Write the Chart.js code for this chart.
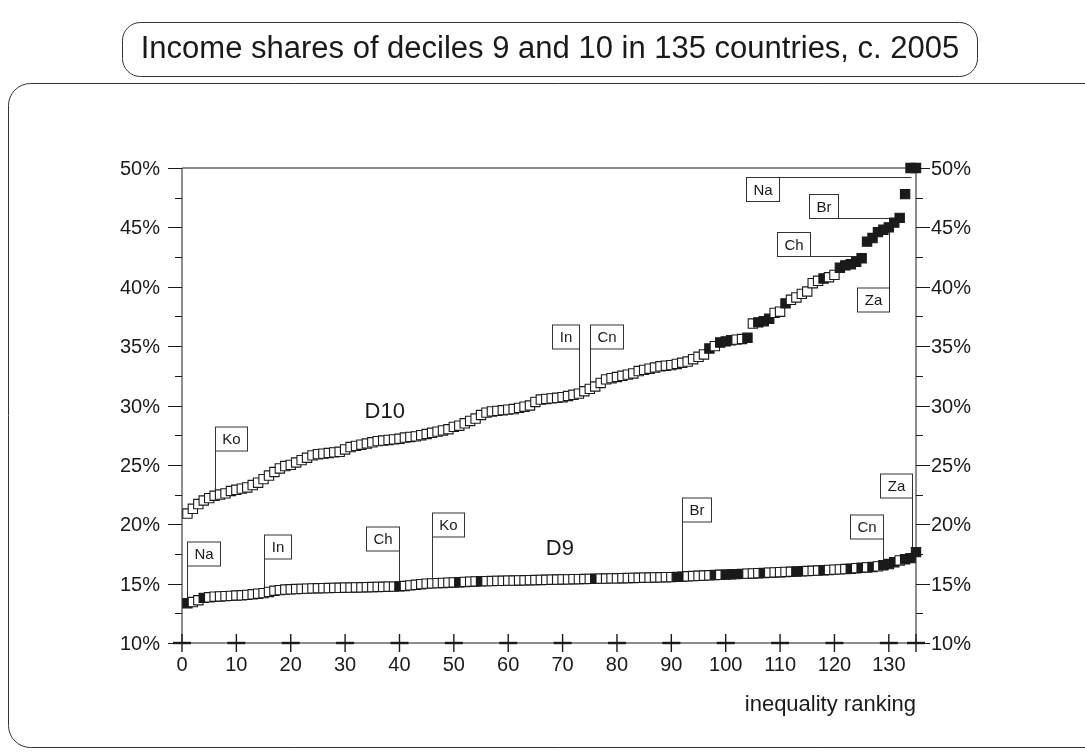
<!DOCTYPE html>
<html>
<head>
<meta charset="utf-8">
<script src="https://cdn.jsdelivr.net/npm/chart.js@4.4.0/dist/chart.umd.min.js"></script>
<style>
  html, body { margin: 0; padding: 0; background: #fff; }
  #wrap { width: 1085px; height: 755px; }
</style>
</head>
<body>
<div id="wrap"><canvas id="chart" width="1085" height="755"></canvas></div>
<script>
const titleText = 'Income shares of deciles 9 and 10 in 135 countries, c. 2005';
const xAxisTitle = 'inequality ranking';

// income share (%) of the top decile, countries sorted by rank 1..135
const d10Values = [
  20.9, 21.3, 21.7, 22.0, 22.2, 22.4, 22.5, 22.6, 22.8, 22.9,
  23.0, 23.1, 23.3, 23.5, 23.8, 24.1, 24.4, 24.7, 24.9, 25.0,
  25.2, 25.4, 25.6, 25.8, 25.9, 25.95, 26.0, 26.05, 26.1, 26.3,
  26.5, 26.6, 26.7, 26.8, 26.9, 27.0, 27.05, 27.1, 27.15, 27.2,
  27.3, 27.35, 27.4, 27.5, 27.6, 27.7, 27.8, 27.9, 28.0, 28.2,
  28.3, 28.5, 28.7, 28.9, 29.2, 29.4, 29.5, 29.55, 29.6, 29.65,
  29.7, 29.8, 29.9, 30.0, 30.3, 30.5, 30.55, 30.6, 30.65, 30.7,
  30.8, 30.9, 31.0, 31.2, 31.4, 31.6, 31.9, 32.2, 32.3, 32.4,
  32.5, 32.6, 32.7, 32.9, 33.0, 33.1, 33.2, 33.3, 33.35, 33.4,
  33.5, 33.6, 33.7, 33.9, 34.1, 34.3, 34.8, 35.0, 35.3, 35.4,
  35.5, 35.55, 35.6, 35.7, 36.9, 37.0, 37.1, 37.3, 37.8, 37.9,
  38.6, 38.9, 39.1, 39.4, 39.6, 40.3, 40.5, 40.7, 40.8, 41.0,
  41.6, 41.8, 41.9, 42.1, 42.4, 43.8, 44.1, 44.6, 44.8, 45.0,
  45.4, 45.8, 47.8, 50.0, 50.0
];
// income share (%) of decile 9, sorted the same way
const d9Values = [
  13.35, 13.45, 13.6, 13.8, 13.85, 13.9, 13.92, 13.95, 13.97, 14.0,
  14.02, 14.05, 14.1, 14.15, 14.2, 14.3, 14.4, 14.45, 14.5, 14.52,
  14.54, 14.56, 14.58, 14.6, 14.61, 14.62, 14.63, 14.64, 14.65, 14.66,
  14.67, 14.68, 14.69, 14.7, 14.71, 14.72, 14.73, 14.74, 14.75, 14.77,
  14.8, 14.85, 14.9, 14.95, 15.0, 15.02, 15.04, 15.06, 15.08, 15.1,
  15.12, 15.14, 15.16, 15.18, 15.2, 15.21, 15.22, 15.23, 15.24, 15.25,
  15.26, 15.27, 15.28, 15.29, 15.3, 15.31, 15.32, 15.33, 15.34, 15.35,
  15.36, 15.37, 15.38, 15.39, 15.4, 15.41, 15.42, 15.43, 15.44, 15.45,
  15.46, 15.47, 15.48, 15.49, 15.5, 15.51, 15.52, 15.53, 15.54, 15.55,
  15.57, 15.59, 15.62, 15.64, 15.66, 15.68, 15.7, 15.72, 15.74, 15.76,
  15.78, 15.8, 15.82, 15.84, 15.86, 15.88, 15.9, 15.92, 15.94, 15.96,
  15.98, 16.0, 16.02, 16.04, 16.06, 16.08, 16.1, 16.12, 16.15, 16.18,
  16.2, 16.23, 16.26, 16.3, 16.33, 16.36, 16.4, 16.45, 16.55, 16.65,
  16.8, 16.95, 17.05, 17.15, 17.65
];

// ranks drawn as filled squares
const d10Filled = [97, 99, 100, 101, 104, 106, 107, 108, 111, 118,
  121, 122, 123, 124, 125, 126, 127, 128, 129, 130, 131, 132, 133, 134, 135];
const d9Filled = [1, 4, 40, 51, 55, 76, 91, 92, 98, 100, 101, 102, 103, 107,
  113, 114, 118, 123, 125, 127, 129, 130, 131, 133, 134, 135];

const seriesNames = ['D10', 'D9'];
const seriesLabelAt = [[37.3, 29.45], [69.5, 17.9]];

const xTickValues = [0, 10, 20, 30, 40, 50, 60, 70, 80, 90, 100, 110, 120, 130, 135];
const xTickLabels = ['0', '10', '20', '30', '40', '50', '60', '70', '80', '90', '100', '110', '120', '130', ''];
const yMajorTicks = [10, 15, 20, 25, 30, 35, 40, 45, 50];
const yMinorTicks = [12.5, 17.5, 22.5, 27.5, 32.5, 37.5, 42.5, 47.5];
const yTickLabels = ['10%', '15%', '20%', '25%', '30%', '35%', '40%', '45%', '50%'];

// country tags: series 0 = D10, 1 = D9
const callouts = [
  { series: 0, rank: 6,   text: 'Ko', boxY: 27.2,  align: 'left',  leader: 'v' },
  { series: 0, rank: 73,  text: 'In', boxY: 35.75, align: 'right', leader: 'v' },
  { series: 0, rank: 75,  text: 'Cn', boxY: 35.75, align: 'left',  leader: 'v' },
  { series: 0, rank: 134, text: 'Na', boxX: 106.7, boxY: 48.2, leader: 'top' },
  { series: 0, rank: 131, text: 'Br', boxX: 117.9, boxY: 46.8, leader: 'bottom' },
  { series: 0, rank: 125, text: 'Ch', boxX: 112.4, boxY: 43.6, leader: 'bottom' },
  { series: 0, rank: 130, text: 'Za', boxY: 38.9,  align: 'right', leader: 'v' },
  { series: 1, rank: 1,   text: 'Na', boxY: 17.5,  align: 'left',  leader: 'v' },
  { series: 1, rank: 15,  text: 'In', boxY: 18.06, align: 'left',  leader: 'v' },
  { series: 1, rank: 40,  text: 'Ch', boxY: 18.78, align: 'right', leader: 'v' },
  { series: 1, rank: 46,  text: 'Ko', boxY: 19.92, align: 'left',  leader: 'v' },
  { series: 1, rank: 92,  text: 'Br', boxY: 21.18, align: 'left',  leader: 'v' },
  { series: 1, rank: 129, text: 'Cn', boxY: 19.75, align: 'right', leader: 'v' },
  { series: 1, rank: 135, text: 'Za', boxY: 23.2,  align: 'right', leader: 'v', dx: -4 }
];

const FONT = '"Liberation Sans", Arial, Helvetica, sans-serif';
const INK = '#1a1a1a';
const allValues = [d10Values, d9Values];
const allFilled = [d10Filled, d9Filled];

function toPoints(values) {
  return values.map((v, i) => ({ x: i + 1, y: v }));
}
function fills(values, filled) {
  return values.map((v, i) => filled.includes(i + 1) ? INK : '#ffffff');
}

function strokeLine(ctx, x1, y1, x2, y2) {
  ctx.beginPath();
  ctx.moveTo(x1, y1);
  ctx.lineTo(x2, y2);
  ctx.stroke();
}

const framePlugin = {
  id: 'frame',
  beforeDraw(chart) {
    const ctx = chart.ctx;
    ctx.save();
    ctx.fillStyle = '#fff';
    ctx.fillRect(0, 0, chart.width, chart.height);
    ctx.strokeStyle = '#333';
    ctx.lineWidth = 1;
    ctx.beginPath();
    ctx.roundRect(122.5, 22.5, 855, 54, 18);
    ctx.stroke();
    ctx.beginPath();
    ctx.roundRect(8.5, 83.5, 1120, 664, 22);
    ctx.stroke();
    ctx.fillStyle = INK;
    ctx.font = '31px ' + FONT;
    ctx.textAlign = 'center';
    ctx.textBaseline = 'alphabetic';
    ctx.fillText(titleText, 550, 58);
    ctx.restore();
  }
};

const axesPlugin = {
  id: 'axes',
  beforeDatasetsDraw(chart) {
    const { ctx, chartArea: a, scales: { x, y } } = chart;
    ctx.save();
    ctx.strokeStyle = INK;
    ctx.fillStyle = INK;
    ctx.lineWidth = 1;
    // box round the plot
    strokeLine(ctx, a.left, a.top, a.right, a.top);
    strokeLine(ctx, a.left, a.bottom, a.right, a.bottom);
    strokeLine(ctx, a.left, a.top, a.left, a.bottom);
    strokeLine(ctx, a.right, a.top, a.right, a.bottom);

    // y ticks both sides
    ctx.font = '20px ' + FONT;
    ctx.textBaseline = 'middle';
    yMajorTicks.forEach((v, k) => {
      const py = Math.round(y.getPixelForValue(v)) + 0.5;
      strokeLine(ctx, a.left - 14, py, a.left, py);
      strokeLine(ctx, a.right, py, a.right + 14, py);
      ctx.textAlign = 'right';
      ctx.fillText(yTickLabels[k], a.left - 22, py + 1);
      ctx.textAlign = 'left';
      ctx.fillText(yTickLabels[k], a.right + 15, py + 1);
    });
    yMinorTicks.forEach(v => {
      const py = Math.round(y.getPixelForValue(v)) + 0.5;
      strokeLine(ctx, a.left - 7, py, a.left, py);
      strokeLine(ctx, a.right, py, a.right + 7, py);
    });

    // x ticks drawn as crosses on the bottom line
    ctx.textAlign = 'center';
    xTickValues.forEach((v, k) => {
      const px = x.getPixelForValue(v);
      ctx.lineWidth = 1.4;
      strokeLine(ctx, px, a.bottom - 9, px, a.bottom + 9);
      ctx.lineWidth = 2.4;
      strokeLine(ctx, px - 9, a.bottom, px + 9, a.bottom);
      if (xTickLabels[k]) ctx.fillText(xTickLabels[k], px, a.bottom + 22);
    });

    ctx.font = '22px ' + FONT;
    ctx.textAlign = 'right';
    ctx.fillText(xAxisTitle, a.right, a.bottom + 62);

    // series names
    ctx.font = '22px ' + FONT;
    ctx.textAlign = 'center';
    seriesNames.forEach((name, s) => {
      ctx.fillText(name, x.getPixelForValue(seriesLabelAt[s][0]), y.getPixelForValue(seriesLabelAt[s][1]));
    });

    // country tags with leader lines
    ctx.font = '15px ' + FONT;
    ctx.lineWidth = 1;
    ctx.strokeStyle = '#333';
    callouts.forEach(c => {
      const px = Math.round(x.getPixelForValue(c.rank) + (c.dx || 0)) + 0.5;
      const py = y.getPixelForValue(allValues[c.series][c.rank - 1]);
      const w = Math.round(ctx.measureText(c.text).width + 14);
      const h = 24;
      let bx, by;
      const cy = Math.round(y.getPixelForValue(c.boxY));
      if (c.leader === 'v') {
        bx = c.align === 'left' ? px : px - w;
        by = cy - h / 2;
        const edge = by > py ? by : by + h;
        strokeLine(ctx, px, py, px, edge);
      } else {
        bx = Math.round(x.getPixelForValue(c.boxX) - w / 2) + 0.5;
        by = cy - h / 2 + 0.5;
        const ly = c.leader === 'top' ? by : by + h;
        strokeLine(ctx, bx + w, ly, px, ly);
      }
      ctx.fillStyle = '#fff';
      ctx.fillRect(bx, by, w, h);
      ctx.strokeRect(bx, by, w, h);
      ctx.fillStyle = INK;
      ctx.textAlign = 'center';
      ctx.fillText(c.text, bx + w / 2, by + h / 2 + 1);
    });
    ctx.restore();
  }
};

const pointStyle = {
  showLine: false,
  pointStyle: 'rect',
  pointRadius: 6.6,
  pointBorderWidth: 1.1,
  pointBorderColor: INK,
  clip: false
};

new Chart(document.getElementById('chart').getContext('2d'), {
  type: 'scatter',
  data: {
    datasets: seriesNames.map((name, s) => Object.assign({
      label: name,
      data: toPoints(allValues[s]),
      pointBackgroundColor: fills(allValues[s], allFilled[s])
    }, pointStyle))
  },
  options: {
    responsive: false,
    animation: false,
    events: [],
    layout: { padding: { left: 182, right: 169, top: 168, bottom: 112 } },
    plugins: { legend: { display: false }, tooltip: { enabled: false } },
    scales: {
      x: { type: 'linear', min: 0, max: 135, display: false },
      y: { type: 'linear', min: 10, max: 50, display: false }
    }
  },
  plugins: [framePlugin, axesPlugin]
});
</script>
</body>
</html>
